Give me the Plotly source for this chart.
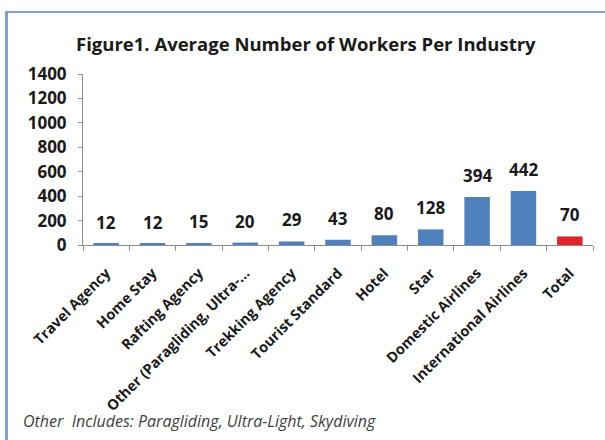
import plotly.graph_objects as go

# Average number of workers per tourism industry
industries = [
    "Travel Agency", "Home Stay", "Rafting Agency", "Other (Paragliding, Ultra-...",
    "Trekking Agency", "Tourist Standard", "Hotel", "Star",
    "Domestic Airlines", "International Airlines", "Total",
]
avg_workers = [12, 12, 15, 20, 29, 43, 80, 128, 394, 442, 70]
y_ticks = [0, 200, 400, 600, 800, 1000, 1200, 1400]

BLUE = "#4f81bd"
RED = "#e3232a"
FONT = "'Open Sans', 'DejaVu Sans', sans-serif"

bar_colors = [RED if name == "Total" else BLUE for name in industries]

fig = go.Figure()
fig.add_trace(go.Bar(
    x=industries,
    y=avg_workers,
    marker=dict(color=bar_colors, line=dict(width=0)),
    width=0.55,
    hoverinfo="x+y",
))

# value labels above each bar
for name, val in zip(industries, avg_workers):
    fig.add_annotation(
        x=name, y=val, text=f"<b>{val}</b>", showarrow=False,
        yanchor="bottom", yshift=8,
        font=dict(family=FONT, size=17, color="#1a1a1a"),
    )

# chart title
fig.add_annotation(
    xref="paper", yref="paper", x=(306 - 83) / 510, y=(245 - 44) / 171,
    xanchor="center", yanchor="middle", showarrow=False,
    text="<b>Figure1. Average Number of Workers Per Industry</b>",
    font=dict(family=FONT, size=18.5, color="#1a1a1a"),
)

# footnote
fig.add_annotation(
    xref="paper", yref="paper", x=(21 - 83) / 510, y=(245 - 421) / 171,
    xanchor="left", yanchor="middle", showarrow=False,
    text="<i>Other  Includes: Paragliding, Ultra-Light, Skydiving</i>",
    font=dict(family=FONT, size=16, color="#404040"),
)

# frame lines on the left and top edges
fig.add_shape(type="line", xref="paper", yref="paper",
              x0=(6.5 - 83) / 510, x1=(6.5 - 83) / 510,
              y0=(245 - 11) / 171, y1=(245 - 445) / 171,
              line=dict(color="#7f9fcf", width=3))
fig.add_shape(type="line", xref="paper", yref="paper",
              x0=(5 - 83) / 510, x1=(610 - 83) / 510,
              y0=(245 - 12) / 171, y1=(245 - 12) / 171,
              line=dict(color="#7f9fcf", width=2))

fig.update_layout(
    width=605, height=440,
    margin=dict(l=83, r=12, t=74, b=195),
    paper_bgcolor="white", plot_bgcolor="white",
    showlegend=False,
    font=dict(family=FONT, color="#1a1a1a"),
    xaxis=dict(
        type="category",
        tickangle=-45,
        tickfont=dict(family=FONT, size=14.5, color="#1a1a1a", weight="bold"),
        ticklabelstandoff=13,
        showline=True, linecolor="#8c8c8c", linewidth=1,
        ticks="outside", ticklen=5, tickcolor="#8c8c8c",
        tickson="boundaries",
        showgrid=False,
    ),
    yaxis=dict(
        range=[0, 1400],
        tickvals=y_ticks,
        tickfont=dict(family=FONT, size=17, color="#1a1a1a", weight="bold"),
        showline=True, linecolor="#8c8c8c", linewidth=1,
        ticks="outside", ticklen=4, tickcolor="#8c8c8c",
        ticklabelstandoff=8,
        showgrid=False, zeroline=False,
    ),
)

fig.write_html("out.html")
